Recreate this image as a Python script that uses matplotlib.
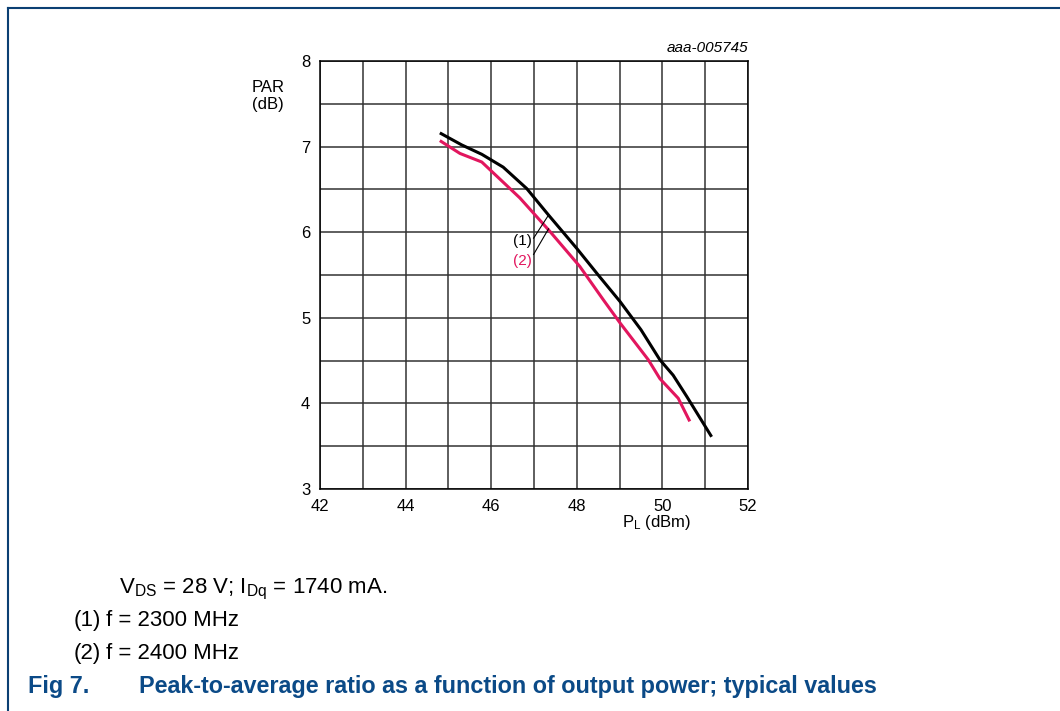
import matplotlib
matplotlib.use("Agg")
import matplotlib.pyplot as plt
from matplotlib.lines import Line2D

plt.rcParams['font.family'] = ['Liberation Sans', 'DejaVu Sans']
plt.rcParams['mathtext.default'] = 'regular'

# donnees
pl_1 = [44.80, 45.31, 45.78, 46.28, 46.83, 47.34, 48.00, 48.50, 49.01, 49.50, 49.94, 50.25, 50.57, 51.15]
par_1 = [7.16, 7.02, 6.91, 6.76, 6.51, 6.20, 5.81, 5.50, 5.19, 4.86, 4.51, 4.33, 4.08, 3.61]
pl_2 = [44.80, 45.27, 45.78, 46.67, 47.37, 48.07, 48.62, 49.01, 49.67, 49.94, 50.37, 50.64]
par_2 = [7.07, 6.92, 6.82, 6.40, 6.01, 5.60, 5.21, 4.94, 4.51, 4.29, 4.06, 3.79]

x_ticks = [42, 44, 46, 48, 50, 52]
y_ticks = [3, 4, 5, 6, 7, 8]

RED = '#E2165E'
BLUE = '#0B4A87'

fig = plt.figure(figsize=(10.6, 7.11), dpi=100)
ax = fig.add_axes([320 / 1060, 1 - 489 / 711, 428 / 1060, 428 / 711])

ax.set_xlim(42, 52)
ax.set_ylim(3, 8)
ax.set_xticks(x_ticks)
ax.set_yticks(y_ticks)
ax.set_xticks([x for x in range(42, 53)], minor=True)
ax.set_yticks([3 + 0.5 * i for i in range(11)], minor=True)
ax.grid(True, which='both', color='#333333', linewidth=1.1)
ax.tick_params(which='both', length=0, labelsize=12, pad=7)
for s in ax.spines.values():
    s.set_color('black')
    s.set_linewidth(1.1)

ax.plot(pl_1, par_1, color='black', linewidth=2.2, solid_capstyle='butt', zorder=3)
ax.plot(pl_2, par_2, color=RED, linewidth=2.2, solid_capstyle='butt', zorder=3)

# etiquettes (1) et (2) avec leurs traits de rappel
ax.text(46.74, 5.90, '(1)', fontsize=11, ha='center', va='center', color='black', zorder=4)
ax.text(46.74, 5.66, '(2)', fontsize=11, ha='center', va='center', color=RED, zorder=4)
ax.plot([46.99, 47.34], [5.93, 6.20], color='black', linewidth=0.8, zorder=4)
ax.plot([46.99, 47.34], [5.74, 6.04], color='black', linewidth=0.8, zorder=4)

fig.text(268 / 1060, 1 - 96 / 711, 'PAR\n(dB)', fontsize=12, ha='center', va='center', linespacing=1.1)
fig.text(657 / 1060, 1 - 522 / 711, 'P$_L$ (dBm)', fontsize=12, ha='center', va='center')
fig.text(748 / 1060, 1 - 48 / 711, 'aaa-005745', fontsize=11, ha='right', va='center', style='italic')

# notes sous le graphique
fig.text(119 / 1060, 1 - 593 / 711, 'V$_{DS}$ = 28 V; I$_{Dq}$ = 1740 mA.', fontsize=16, ha='left', va='baseline')
fig.text(74 / 1060, 1 - 626 / 711, '(1)', fontsize=16, ha='left', va='baseline')
fig.text(106 / 1060, 1 - 626 / 711, 'f = 2300 MHz', fontsize=16, ha='left', va='baseline')
fig.text(74 / 1060, 1 - 659 / 711, '(2)', fontsize=16, ha='left', va='baseline')
fig.text(106 / 1060, 1 - 659 / 711, 'f = 2400 MHz', fontsize=16, ha='left', va='baseline')
fig.text(28 / 1060, 1 - 693 / 711, 'Fig 7.', fontsize=16.8, ha='left', va='baseline', color=BLUE, weight='bold')
fig.text(139 / 1060, 1 - 693 / 711, 'Peak-to-average ratio as a function of output power; typical values',
         fontsize=16.8, ha='left', va='baseline', color=BLUE, weight='bold')

# cadre bleu en haut et a gauche
fig.add_artist(Line2D([8 / 1060, 1], [1 - 8 / 711, 1 - 8 / 711], color='#0B3F73', linewidth=1.5))
fig.add_artist(Line2D([8 / 1060, 8 / 1060], [0, 1 - 8 / 711], color='#0B3F73', linewidth=1.5))

fig.savefig('out.png', dpi=100)
